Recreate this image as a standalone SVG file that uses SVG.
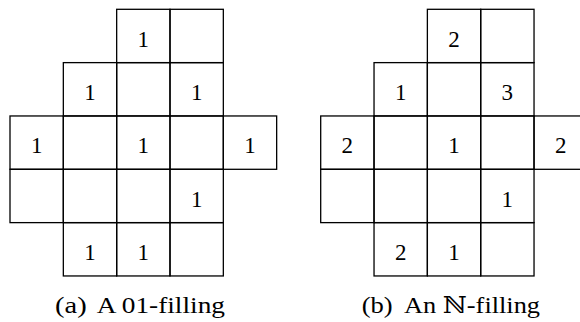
<svg xmlns="http://www.w3.org/2000/svg" width="580" height="322" viewBox="0 0 580 322">
<style>
.c{fill:none;stroke:#000;stroke-width:1.3}
text{font-family:'Liberation Serif','DejaVu Serif',serif;fill:#000}
.t{font-size:23px;text-anchor:middle}
.cap{font-size:23px;text-anchor:start}
</style>
<rect width="580" height="322" fill="#fff"/>
<defs>
<g id="shape">
<rect class="c" x="106.67" y="0" width="53.33" height="53.33"/>
<rect class="c" x="160" y="0" width="53.33" height="53.33"/>
<rect class="c" x="53.33" y="53.33" width="53.33" height="53.33"/>
<rect class="c" x="106.67" y="53.33" width="53.33" height="53.33"/>
<rect class="c" x="160" y="53.33" width="53.33" height="53.33"/>
<rect class="c" x="0" y="106.67" width="53.33" height="53.33"/>
<rect class="c" x="53.33" y="106.67" width="53.33" height="53.33"/>
<rect class="c" x="106.67" y="106.67" width="53.33" height="53.33"/>
<rect class="c" x="160" y="106.67" width="53.33" height="53.33"/>
<rect class="c" x="213.33" y="106.67" width="53.33" height="53.33"/>
<rect class="c" x="0" y="160" width="53.33" height="53.33"/>
<rect class="c" x="53.33" y="160" width="53.33" height="53.33"/>
<rect class="c" x="106.67" y="160" width="53.33" height="53.33"/>
<rect class="c" x="160" y="160" width="53.33" height="53.33"/>
<rect class="c" x="53.33" y="213.33" width="53.33" height="53.33"/>
<rect class="c" x="106.67" y="213.33" width="53.33" height="53.33"/>
<rect class="c" x="160" y="213.33" width="53.33" height="53.33"/>
</g>
</defs>
<g id="fig-a" transform="translate(10,9.3)">
<use href="#shape"/>
<text class="t" x="133.33" y="37.4">1</text>
<text class="t" x="80" y="90.7">1</text>
<text class="t" x="186.67" y="90.7">1</text>
<text class="t" x="26.67" y="144.1">1</text>
<text class="t" x="133.33" y="144.1">1</text>
<text class="t" x="240" y="144.1">1</text>
<text class="t" x="186.67" y="197.4">1</text>
<text class="t" x="80" y="250.7">1</text>
<text class="t" x="133.33" y="250.7">1</text>
</g>
<g id="fig-b" transform="translate(320.7,9.3)">
<use href="#shape"/>
<text class="t" x="133.33" y="37.4">2</text>
<text class="t" x="80" y="90.7">1</text>
<text class="t" x="186.67" y="90.7">3</text>
<text class="t" x="26.67" y="144.1">2</text>
<text class="t" x="133.33" y="144.1">1</text>
<text class="t" x="240" y="144.1">2</text>
<text class="t" x="186.67" y="197.4">1</text>
<text class="t" x="80" y="250.7">2</text>
<text class="t" x="133.33" y="250.7">1</text>
</g>
<g id="cap-a">
<text class="cap" x="55" y="313.3" textLength="31.7" lengthAdjust="spacingAndGlyphs">(a)</text>
<text class="cap" x="96.7" y="313.3" textLength="128.3" lengthAdjust="spacingAndGlyphs">A 01-filling</text>
</g>
<g id="cap-b">
<text class="cap" x="361.7" y="313.3" textLength="31" lengthAdjust="spacingAndGlyphs">(b)</text>
<text class="cap" x="404" y="313.3" textLength="136" lengthAdjust="spacingAndGlyphs">An ℕ-filling</text>
</g>
</svg>
